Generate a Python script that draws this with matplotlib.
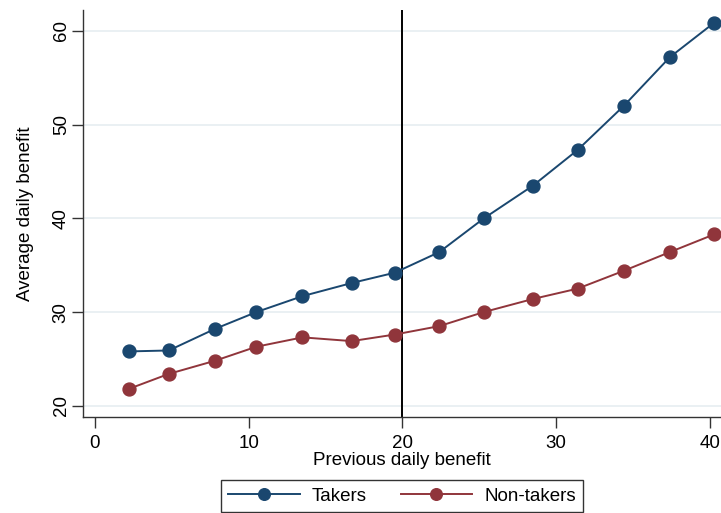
import matplotlib
matplotlib.use('Agg')
import matplotlib.pyplot as plt

plt.rcParams['font.family'] = ['Liberation Sans', 'DejaVu Sans']

# binned previous daily benefit (x) and average daily benefit (y)
prev_benefit = [2.2, 4.8, 7.8, 10.5, 13.5, 16.7, 19.5, 22.4, 25.3, 28.5,
                31.4, 34.4, 37.4, 40.3]
takers = [25.8, 25.9, 28.2, 30.0, 31.7, 33.1, 34.2, 36.4, 40.0, 43.5,
          47.3, 52.0, 57.2, 60.9]
non_takers = [21.8, 23.4, 24.8, 26.3, 27.3, 26.9, 27.6, 28.5, 30.0, 31.4,
              32.5, 34.4, 36.4, 38.3]
cutoff = 20
xticks = [0, 10, 20, 30, 40]
yticks = [20, 30, 40, 50, 60]

navy = '#1a476f'
maroon = '#90353b'

fig = plt.figure(figsize=(7.21, 5.13), dpi=100)
ax = fig.add_axes([83 / 721, 96 / 513, 638 / 721, 407 / 513])

for y in yticks:
    ax.axhline(y, color='#e6eef1', lw=1.2, zorder=0)

ax.plot(prev_benefit, takers, '-o', color=navy, lw=1.4, ms=9.3,
        label='Takers', clip_on=False, zorder=3)
ax.plot(prev_benefit, non_takers, '-o', color=maroon, lw=1.4, ms=9.3,
        label='Non-takers', clip_on=False, zorder=3)
ax.axvline(cutoff, color='black', lw=1.4, zorder=2)

ax.set_xlim(-0.78, 40.73)
ax.set_ylim(18.8, 62.24)
ax.set_xticks(xticks)
ax.set_yticks(yticks)
ax.tick_params(axis='both', length=8, width=1, colors='#333333',
               labelsize=13.5, labelcolor='black')
ax.tick_params(axis='x', pad=5)
ax.tick_params(axis='y', pad=1.5)
for lab in ax.get_yticklabels():
    lab.set_rotation(90)
    lab.set_va('center')

for s in ['top', 'right']:
    ax.spines[s].set_visible(False)
for s in ['left', 'bottom']:
    ax.spines[s].set_color('#333333')
    ax.spines[s].set_linewidth(1)

ax.set_xlabel('Previous daily benefit', fontsize=13.5, labelpad=0)
ax.set_ylabel('Average daily benefit', fontsize=13.5)
ax.yaxis.set_label_coords(-(83 - 34) / 638, 0.5)

leg = fig.legend(loc='upper left', bbox_to_anchor=(221 / 721, 33 / 513),
                 ncol=2, fontsize=13.5, frameon=True, fancybox=False,
                 edgecolor='black', handlelength=3.8, columnspacing=1.8,
                 handletextpad=0.65, borderpad=0.4, borderaxespad=0,
                 markerscale=0.9)
leg.get_frame().set_linewidth(1)

fig.savefig('out.png', dpi=100)
